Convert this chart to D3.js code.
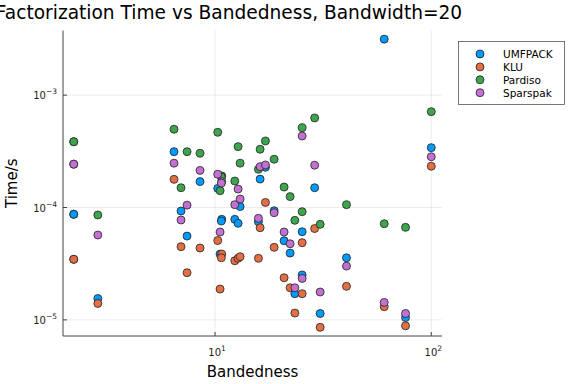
<!DOCTYPE html>
<html>
<head>
<meta charset="utf-8">
<script src="https://cdn.jsdelivr.net/npm/d3@7"></script>
<style>
  body { margin: 0; background: #fff; }
  svg { display: block; font-family: "DejaVu Sans", sans-serif; }
</style>
</head>
<body>
<div id="chart"></div>
<script>
// DATA
const bandedness = [2.22, 2.22, 2.87, 6.46, 6.96, 7.42, 8.52, 10.29, 10.55, 10.74, 10.69,
  12.34, 12.78, 13.06, 15.87, 16.16, 17.10, 18.76, 20.86, 22.24, 23.39, 25.28, 25.28,
  28.88, 30.63, 40.54, 60.58, 76.03, 100];
const umfpack = [8.70e-5, 8.70e-5, 1.55e-5, 3.14e-4, 9.31e-5, 5.57e-5, 1.70e-4, 1.48e-4, 3.85e-5, 7.85e-5, 7.58e-5,
  7.85e-5, 7.23e-5, 1.02e-4, 7.47e-5, 1.79e-4, 2.28e-4, 9.36e-5, 5.06e-5, 3.93e-5, 1.71e-5, 6.09e-5, 2.51e-5,
  1.50e-4, 1.14e-5, 3.57e-5, 3.15e-3, 1.05e-5, 3.41e-4];
const klu = [3.46e-5, 3.46e-5, 1.40e-5, 1.78e-4, 4.48e-5, 2.63e-5, 4.36e-5, 5.08e-5, 1.88e-5, 3.85e-5, 3.57e-5,
  3.36e-5, 3.53e-5, 3.65e-5, 3.53e-5, 6.61e-5, 1.11e-4, 4.42e-5, 2.37e-5, 1.93e-5, 1.15e-5, 4.86e-5, 1.71e-5,
  6.50e-5, 8.58e-6, 1.99e-5, 1.31e-5, 8.86e-6, 2.33e-4];
const pardiso = [3.85e-4, 3.85e-4, 8.58e-5, 4.97e-4, 1.50e-4, 3.14e-4, 3.04e-4, 4.67e-4, 1.41e-4, 1.91e-4, 1.87e-4,
  1.72e-4, 3.48e-4, 2.48e-4, 2.19e-4, 3.30e-4, 3.91e-4, 2.69e-4, 1.52e-4, 1.25e-4, 7.69e-5, 5.13e-4, 9.18e-5,
  6.27e-4, 7.09e-5, 1.06e-4, 7.17e-5, 6.66e-5, 7.13e-4];
const sparspak = [2.43e-4, 2.43e-4, 5.69e-5, 2.48e-4, 7.74e-5, 1.05e-4, 2.14e-4, 1.98e-4, 6.05e-5, 1.70e-4, 1.65e-4,
  1.06e-4, 1.46e-4, 1.19e-4, 8.01e-5, 2.31e-4, 2.39e-4, 8.99e-5, 6.05e-5, 4.76e-5, 1.93e-5, 4.33e-4, 2.34e-5,
  2.38e-4, 1.77e-5, 3.01e-5, 1.43e-5, 1.14e-5, 2.83e-4];
const seriesNames = ["UMFPACK", "KLU", "Pardiso", "Sparspak"];
const seriesColors = ["#009AFA", "#E36F47", "#3EA44E", "#C271D2"];
const xTicks = [10, 100];
const yTicks = [1e-5, 1e-4, 1e-3];

document.addEventListener("DOMContentLoaded", function () {

  const width = 576, height = 384;
  const plotLeft = 63, plotRight = 442, plotTop = 30.5, plotBottom = 336;

  const series = [umfpack, klu, pardiso, sparspak].map((vals, k) => ({
    name: seriesNames[k],
    color: seriesColors[k],
    points: vals.map((v, i) => ({ x: bandedness[i], y: v }))
  }));

  // 3% padding in log space, like Plots.jl
  function padLog(vals) {
    const lo = Math.log10(d3.min(vals)), hi = Math.log10(d3.max(vals));
    const p = (hi - lo) * 0.03;
    return [Math.pow(10, lo - p), Math.pow(10, hi + p)];
  }
  const allY = [].concat(umfpack, klu, pardiso, sparspak);

  const x = d3.scaleLog().domain(padLog(bandedness)).range([plotLeft, plotRight]);
  const y = d3.scaleLog().domain(padLog(allY)).range([plotBottom, plotTop]);

  const svg = d3.select("#chart").append("svg")
    .attr("width", width).attr("height", height);

  // GRID
  svg.append("g").selectAll("line").data(xTicks).join("line")
    .attr("x1", d => x(d)).attr("x2", d => x(d))
    .attr("y1", plotTop).attr("y2", plotBottom)
    .attr("stroke", "#000").attr("stroke-opacity", 0.1).attr("stroke-width", 0.8);
  svg.append("g").selectAll("line").data(yTicks).join("line")
    .attr("x1", plotLeft).attr("x2", plotRight)
    .attr("y1", d => y(d)).attr("y2", d => y(d))
    .attr("stroke", "#000").attr("stroke-opacity", 0.1).attr("stroke-width", 0.8);

  // AXES
  const axisColor = "#444";
  svg.append("line").attr("x1", plotLeft).attr("x2", plotLeft).attr("y1", plotTop).attr("y2", plotBottom)
    .attr("stroke", axisColor).attr("stroke-width", 1);
  svg.append("line").attr("x1", plotLeft).attr("x2", plotRight).attr("y1", plotBottom).attr("y2", plotBottom)
    .attr("stroke", axisColor).attr("stroke-width", 1);

  svg.append("g").selectAll("line").data(xTicks).join("line")
    .attr("x1", d => x(d)).attr("x2", d => x(d))
    .attr("y1", plotBottom).attr("y2", plotBottom - 4)
    .attr("stroke", axisColor);
  svg.append("g").selectAll("line").data(yTicks).join("line")
    .attr("x1", plotLeft).attr("x2", plotLeft + 4)
    .attr("y1", d => y(d)).attr("y2", d => y(d))
    .attr("stroke", axisColor);

  function powLabel(sel, d) {
    const e = Math.round(Math.log10(d));
    sel.append("tspan").text("10");
    sel.append("tspan").attr("dy", -5).attr("font-size", 7.5)
      .text(e < 0 ? "\u2212" + (-e) : String(e));
  }

  svg.append("g").selectAll("text").data(xTicks).join("text")
    .attr("x", d => x(d) + 2).attr("y", 356)
    .attr("text-anchor", "middle").attr("font-size", 10).attr("fill", "#222")
    .each(function (d) { powLabel(d3.select(this), d); });

  svg.append("g").selectAll("text").data(yTicks).join("text")
    .attr("x", 57).attr("y", d => y(d) + 4)
    .attr("text-anchor", "end").attr("font-size", 10).attr("fill", "#222")
    .each(function (d) { powLabel(d3.select(this), d); });

  // POINTS, series in order so Sparspak ends up on top
  series.forEach(s => {
    svg.append("g").selectAll("circle").data(s.points).join("circle")
      .attr("cx", d => x(d.x)).attr("cy", d => y(d.y))
      .attr("r", 4)
      .attr("fill", s.color)
      .attr("stroke", "#222").attr("stroke-width", 0.8);
  });

  // TITLE AND AXIS LABELS
  svg.append("text").attr("x", 229).attr("y", 19)
    .attr("text-anchor", "middle").attr("font-size", 18.6).attr("fill", "#000")
    .text("Factorization Time vs Bandedness, Bandwidth=20");
  svg.append("text").attr("x", (plotLeft + plotRight) / 2).attr("y", 377)
    .attr("text-anchor", "middle").attr("font-size", 15).attr("fill", "#000")
    .text("Bandedness");
  svg.append("text")
    .attr("transform", `translate(17,${(plotTop + plotBottom) / 2}) rotate(-90)`)
    .attr("text-anchor", "middle").attr("font-size", 15).attr("fill", "#000")
    .text("Time/s");

  // LEGEND
  const legend = svg.append("g");
  legend.append("rect").attr("x", 458.5).attr("y", 41.5).attr("width", 106).attr("height", 63)
    .attr("fill", "#fff").attr("stroke", "#555").attr("stroke-width", 0.8);
  const rows = legend.selectAll("g.row").data(series).join("g").attr("class", "row")
    .attr("transform", (d, i) => `translate(0,${54 + i * 12.9})`);
  rows.append("circle").attr("cx", 480).attr("cy", 0).attr("r", 4)
    .attr("fill", d => d.color).attr("stroke", "#222").attr("stroke-width", 0.8);
  rows.append("text").attr("x", 503).attr("y", 4)
    .attr("font-size", 10.5).attr("fill", "#000")
    .text(d => d.name);

});
</script>
</body>
</html>
